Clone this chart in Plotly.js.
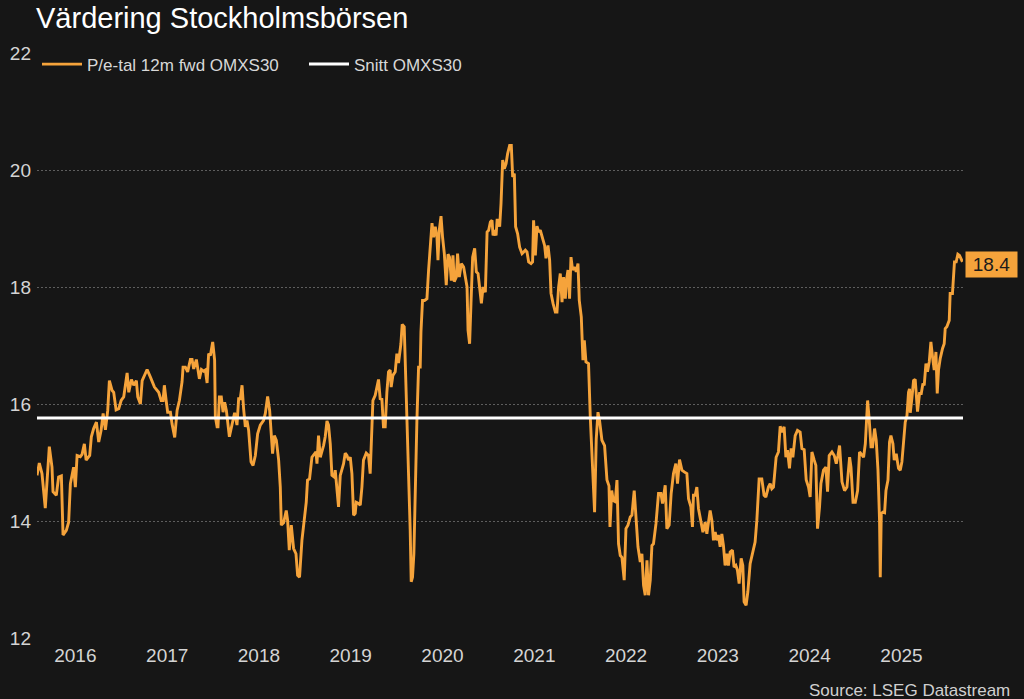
<!DOCTYPE html>
<html>
<head>
<meta charset="utf-8">
<script src="https://cdn.plot.ly/plotly-3.0.1.min.js"></script>
<style>
html,body{margin:0;padding:0;background:#161616;}
#chart{width:1024px;height:699px;}
</style>
</head>
<body>
<div id="chart"></div>
<script>
// Time as decimal years, forward P/E values
const years = [
2016.083,2016.108,2016.137,2016.173,2016.217,2016.246,2016.257,2016.293,2016.318,2016.348,
2016.366,2016.402,2016.427,2016.446,2016.481,2016.500,2016.519,2016.554,2016.573,2016.598,
2016.617,2016.656,2016.674,2016.699,2016.729,2016.754,2016.780,2016.802,2016.827,2016.852,
2016.870,2016.900,2016.917,2016.943,2016.972,2016.998,2017.026,2017.063,2017.081,2017.110,
2017.135,2017.164,2017.179,2017.208,2017.227,2017.281,2017.317,2017.361,2017.407,2017.434,
2017.455,2017.469,2017.491,2017.505,2017.535,2017.553,2017.582,2017.608,2017.633,2017.662,
2017.673,2017.698,2017.723,2017.753,2017.771,2017.789,2017.818,2017.851,2017.873,2017.898,
2017.916,2017.935,2017.952,2017.971,2017.996,2018.017,2018.025,2018.044,2018.054,2018.069,
2018.090,2018.109,2018.126,2018.145,2018.178,2018.207,2018.235,2018.261,2018.279,2018.297,
2018.316,2018.333,2018.352,2018.370,2018.388,2018.414,2018.436,2018.461,2018.486,2018.515,
2018.551,2018.570,2018.595,2018.617,2018.632,2018.649,2018.668,2018.690,2018.715,2018.733,
2018.744,2018.769,2018.798,2018.813,2018.831,2018.853,2018.878,2018.904,2018.922,2018.943,
2018.969,2018.995,2019.016,2019.030,2019.052,2019.078,2019.103,2019.122,2019.133,2019.150,
2019.169,2019.187,2019.205,2019.223,2019.242,2019.259,2019.278,2019.296,2019.321,2019.332,
2019.351,2019.368,2019.387,2019.405,2019.423,2019.441,2019.460,2019.477,2019.496,2019.514,
2019.532,2019.550,2019.561,2019.586,2019.605,2019.623,2019.640,2019.670,2019.695,2019.713,
2019.724,2019.743,2019.768,2019.786,2019.804,2019.822,2019.841,2019.858,2019.877,2019.895,
2019.913,2019.931,2019.942,2019.961,2019.986,2020.004,2020.022,2020.048,2020.062,2020.084,
2020.102,2020.120,2020.138,2020.149,2020.160,2020.174,2020.189,2020.204,2020.222,2020.240,
2020.258,2020.266,2020.283,2020.305,2020.331,2020.349,2020.367,2020.386,2020.403,2020.422,
2020.440,2020.451,2020.465,2020.484,2020.501,2020.520,2020.541,2020.560,2020.577,2020.596,
2020.614,2020.628,2020.650,2020.664,2020.683,2020.705,2020.730,2020.748,2020.767,2020.778,
2020.795,2020.810,2020.828,2020.850,2020.868,2020.887,2020.904,2020.923,2020.941,2020.966,
2020.985,2021.002,2021.021,2021.039,2021.050,2021.067,2021.083,2021.094,2021.111,2021.122,
2021.137,2021.155,2021.173,2021.192,2021.209,2021.231,2021.249,2021.264,2021.282,2021.296,
2021.318,2021.340,2021.366,2021.402,2021.420,2021.438,2021.464,2021.481,2021.492,2021.511,
2021.529,2021.547,2021.565,2021.590,2021.612,2021.627,2021.649,2021.667,2021.682,2021.704,
2021.729,2021.747,2021.765,2021.783,2021.802,2021.819,2021.838,2021.848,2021.867,2021.884,
2021.900,2021.917,2021.939,2021.957,2021.976,2021.990,2022.012,2022.030,2022.045,2022.063,
2022.091,2022.110,2022.135,2022.157,2022.175,2022.194,2022.211,2022.237,2022.266,2022.292,
2022.314,2022.325,2022.344,2022.360,2022.382,2022.401,2022.418,2022.437,2022.455,2022.480,
2022.499,2022.521,2022.546,2022.564,2022.589,2022.611,2022.630,2022.655,2022.673,2022.691,
2022.709,2022.728,2022.745,2022.764,2022.782,2022.799,2022.826,2022.854,2022.880,2022.898,
2022.927,2022.945,2022.970,2022.992,2023.017,2023.043,2023.061,2023.083,2023.109,2023.134,
2023.163,2023.181,2023.207,2023.224,2023.235,2023.254,2023.272,2023.290,2023.316,2023.338,
2023.363,2023.381,2023.399,2023.417,2023.436,2023.453,2023.472,2023.490,2023.507,2023.526,
2023.544,2023.562,2023.580,2023.599,2023.616,2023.635,2023.660,2023.678,2023.697,2023.714,
2023.733,2023.755,2023.773,2023.787,2023.809,2023.828,2023.853,2023.878,2023.907,2023.926,
2023.951,2023.980,2024.005,2024.024,2024.052,2024.071,2024.089,2024.107,2024.136,2024.161,
2024.180,2024.198,2024.223,2024.242,2024.259,2024.281,2024.299,2024.318,2024.343,2024.368,
2024.397,2024.416,2024.441,2024.463,2024.488,2024.506,2024.525,2024.550,2024.568,2024.586,
2024.608,2024.623,2024.651,2024.677,2024.695,2024.713,2024.743,2024.768,2024.790,2024.808,
2024.826,2024.852,2024.880,2024.906,2024.935,2024.950,2024.972,2024.997,2025.022,2025.043,
2025.070,2025.087,2025.106,2025.131,2025.149,2025.168,2025.185,2025.207,2025.225,2025.244,
2025.261,2025.269,2025.280,2025.298,2025.316,2025.331,2025.353,2025.370,2025.385,2025.407,
2025.421,2025.443,2025.468,2025.487,2025.505,2025.523,2025.541,2025.560,2025.577,2025.588,
2025.596,2025.614,2025.632,2025.650,2025.675,2025.697,2025.716,2025.734,2025.748,2025.767,
2025.784,2025.803,2025.821,2025.839,2025.857,2025.876,2025.890,2025.904,2025.923,2025.948,
2025.966,2025.977,2025.995,2026.021,2026.031,2026.056,2026.067,2026.078,2026.097,2026.115,
2026.133,2026.151,2026.165
];
const peFwd = [
14.78,14.99,14.81,14.22,15.27,14.92,14.50,14.44,14.75,14.77,
13.76,13.84,13.98,14.64,14.92,14.58,15.12,15.10,15.14,15.32,
15.04,15.12,15.44,15.58,15.69,15.35,15.55,15.84,15.56,15.89,
16.40,16.23,16.20,15.90,15.92,16.06,16.12,16.53,16.20,16.42,
16.32,16.40,16.12,16.00,16.40,16.59,16.46,16.29,16.20,16.06,
16.06,16.32,16.03,15.86,15.86,15.66,15.43,15.89,16.06,16.38,
16.63,16.63,16.55,16.76,16.76,16.60,16.76,16.43,16.59,16.56,
16.58,16.36,16.86,16.83,17.06,16.75,15.78,15.61,15.61,16.12,
16.12,15.86,16.03,15.89,15.44,15.66,15.85,15.64,16.09,16.09,
16.32,15.92,15.61,15.72,15.55,15.01,14.95,15.12,15.49,15.64,
15.72,15.84,16.13,15.89,15.55,15.15,15.46,15.38,15.04,14.58,
13.93,13.97,14.18,14.01,13.50,13.93,13.53,13.44,13.07,13.04,
13.67,14.10,14.32,14.70,14.72,15.09,15.15,15.18,14.98,15.46,
15.09,15.18,15.29,15.44,15.71,15.64,15.32,14.78,14.75,14.87,
14.58,14.24,14.78,14.87,14.98,15.16,15.12,15.04,15.09,14.81,
14.10,14.13,14.32,14.30,14.27,14.58,15.04,15.16,15.12,14.81,
15.32,16.06,16.15,16.26,16.42,16.09,16.08,15.61,15.61,16.20,
16.55,16.58,16.29,16.49,16.55,16.86,16.70,17.03,17.36,17.32,
16.41,15.66,14.70,13.84,12.96,13.04,13.44,14.70,15.72,16.63,
16.63,17.23,17.77,17.77,17.80,18.29,18.74,19.09,18.85,19.03,
18.85,18.46,18.97,19.21,18.85,18.57,18.03,18.56,18.51,18.11,
18.54,18.09,18.17,18.57,18.17,18.40,18.34,18.20,18.00,17.26,
17.03,17.72,18.51,18.66,18.26,18.23,18.00,17.72,18.00,17.91,
18.94,18.97,19.11,19.14,18.88,18.97,18.88,19.14,19.14,19.03,
19.43,20.17,20.02,20.11,20.28,20.42,20.42,19.88,19.94,19.03,
18.91,18.68,18.57,18.63,18.60,18.43,18.40,18.43,19.14,18.54,
19.04,18.94,18.97,18.85,18.71,18.49,18.71,18.46,17.89,17.72,
17.57,17.57,18.00,18.23,17.74,18.17,17.80,18.09,18.29,17.80,
18.51,18.29,18.34,18.26,18.40,17.77,17.49,16.75,17.09,16.72,
16.69,15.78,14.98,14.15,15.40,15.86,15.72,15.38,15.29,14.70,
14.60,13.90,14.52,14.35,14.33,14.70,13.61,13.41,13.38,12.99,
13.87,13.93,14.07,14.10,14.52,14.01,13.56,13.30,13.44,12.90,
12.73,13.33,12.73,12.99,13.58,13.61,13.95,14.47,14.47,14.30,
14.61,13.87,13.93,14.47,14.81,14.98,14.64,15.05,14.87,14.84,
14.81,14.38,14.24,13.90,14.44,14.44,14.58,14.21,13.95,13.81,
13.98,13.78,13.98,14.18,14.01,13.67,13.81,13.67,13.76,13.56,
13.78,13.58,13.24,13.44,13.24,13.47,13.50,13.21,13.24,13.16,
12.93,13.36,13.24,12.62,12.56,12.79,13.27,13.44,13.64,14.01,
14.72,14.72,14.44,14.41,14.58,14.64,14.55,14.58,15.09,15.18,
15.62,15.52,15.61,15.09,15.21,14.90,15.24,15.09,15.46,15.55,
15.52,15.24,15.22,14.70,14.58,14.41,15.18,15.04,14.95,13.87,
14.24,14.64,14.87,14.92,14.50,15.12,15.18,15.12,14.98,15.12,
15.29,14.67,14.52,14.58,15.09,14.92,14.32,14.32,14.52,15.18,
15.12,15.09,15.32,16.06,15.72,15.27,15.27,15.58,15.38,14.87,
14.01,13.04,14.13,14.15,14.14,14.52,14.70,15.35,15.46,15.32,
15.04,15.15,14.90,14.87,15.01,15.40,15.69,15.80,16.20,16.26,
15.85,16.10,16.40,16.42,15.87,16.18,16.18,16.35,16.32,16.69,
16.55,16.72,17.06,16.80,16.58,16.89,16.18,16.58,16.78,16.95,
17.03,17.29,17.32,17.43,17.89,17.89,18.20,18.43,18.43,18.56,
18.54,18.49,18.43
];
const avgPE = 15.76;                 // Snitt OMXS30
const yTicks = [12, 14, 16, 18, 20, 22];
const seriesNames = ['P/e-tal 12m fwd OMXS30', 'Snitt OMXS30'];
const titleText = 'Värdering Stockholmsbörsen';
const sourceText = 'Source: LSEG Datastream';

function toDate(y) {
  const Y = Math.floor(y);
  const s = Date.UTC(Y, 0, 1), e = Date.UTC(Y + 1, 0, 1);
  return new Date(s + (y - Y) * (e - s)).toISOString().slice(0, 19).replace('T', ' ');
}
const dates = years.map(toDate);
const last = peFwd.length - 1;
const xStart = toDate(years[0]);
const xEnd = toDate(years[last] + 0.006);

const ORANGE = '#f5a33b';
const FONT = '"Liberation Sans", Arial, sans-serif';

const traces = [
  {
    x: dates, y: peFwd, type: 'scatter', mode: 'lines',
    name: seriesNames[0],
    line: {color: ORANGE, width: 2.9},
    hoverinfo: 'skip'
  },
  {
    x: [xStart, xEnd], y: [avgPE, avgPE], type: 'scatter', mode: 'lines',
    name: seriesNames[1],
    line: {color: '#ffffff', width: 3},
    hoverinfo: 'skip'
  }
];

const layout = {
  width: 1024, height: 699,
  paper_bgcolor: '#161616', plot_bgcolor: '#161616',
  margin: {l: 37, r: 61, t: 53, b: 61},
  font: {family: FONT, color: '#d4d4d4'},
  title: {
    text: titleText, font: {family: FONT, size: 29, color: '#ffffff'},
    x: 36/1024, xanchor: 'left', xref: 'container',
    y: 1 - 18/699, yanchor: 'middle', yref: 'container'
  },
  showlegend: true,
  legend: {
    orientation: 'h', x: 0, y: 1.011, xanchor: 'left', yanchor: 'top',
    bgcolor: 'rgba(0,0,0,0)', font: {family: FONT, size: 17, color: '#d8d8d8'},
    itemwidth: 40, entrywidth: 212, entrywidthmode: 'pixels'
  },
  xaxis: {
    type: 'date', range: [xStart, xEnd],
    showgrid: false, zeroline: false, showline: false, ticks: '',
    dtick: 'M12', tick0: '2016-01-01', tickformat: '%Y', ticklabelmode: 'period',
    tickfont: {family: FONT, size: 19, color: '#d4d4d4'},
    ticklabelstandoff: 4,
    fixedrange: true
  },
  yaxis: {
    range: [12, 22], tickvals: yTicks,
    showgrid: true, gridcolor: '#5e5e5e', griddash: '2px,2px', gridwidth: 1,
    zeroline: false, showline: false, ticks: '',
    tickfont: {family: FONT, size: 19, color: '#d4d4d4'},
    ticklabelstandoff: 5,
    fixedrange: true
  },
  annotations: [
    {
      x: dates[last], y: peFwd[last], xref: 'x', yref: 'y',
      text: peFwd[last].toFixed(1), showarrow: false,
      xanchor: 'left', yanchor: 'middle', xshift: 3, yshift: -3,
      bgcolor: ORANGE, borderpad: 2, width: 47,
      font: {family: FONT, size: 19, color: '#1b1b1b'}
    },
    {
      x: (1012 - 37) / 926, y: (637.7 - 690) / 585, xref: 'paper', yref: 'paper',
      text: sourceText, showarrow: false, xanchor: 'right', yanchor: 'middle',
      font: {family: FONT, size: 17, color: '#d0d0d0'}
    }
  ]
};

Plotly.newPlot('chart', traces, layout, {displayModeBar: false, staticPlot: true});
</script>
</body>
</html>
